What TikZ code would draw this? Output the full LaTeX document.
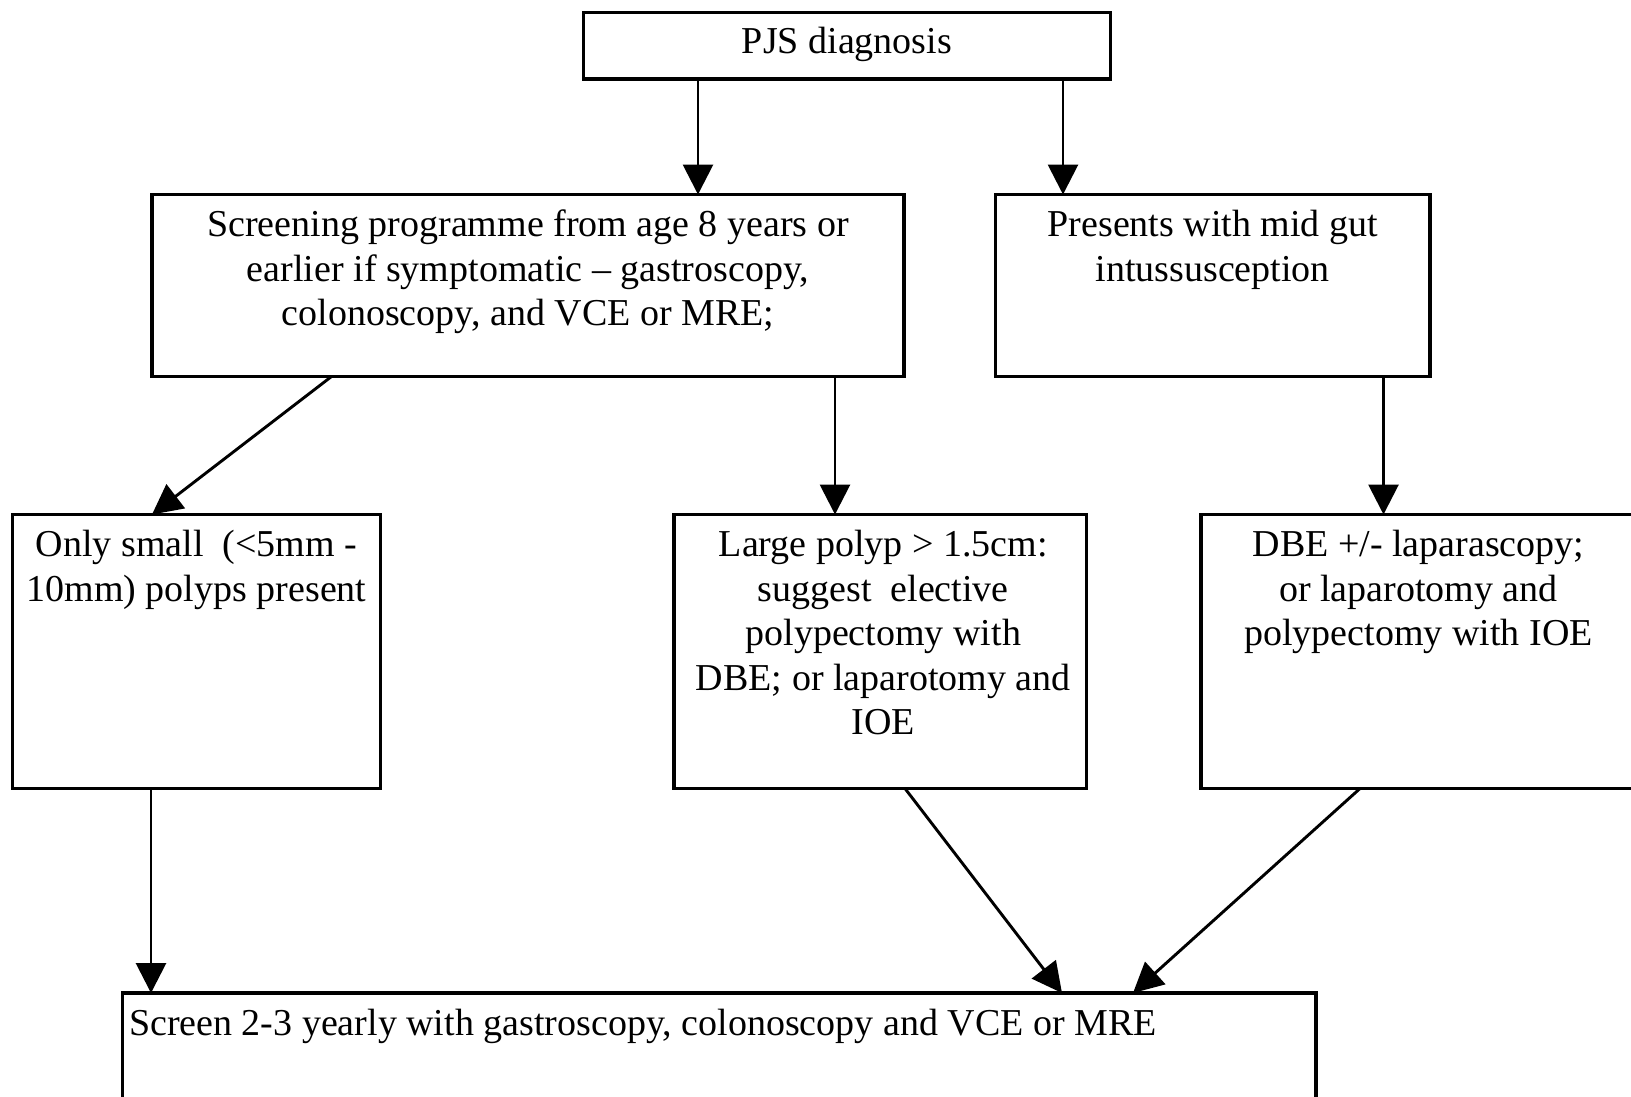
\documentclass[tikz,border=0pt]{standalone}
\usepackage{fontspec}
\setmainfont{Liberation Serif}
\usetikzlibrary{arrows.meta,calc}

% multi-line label whose baseline is that of its first line
\newcommand{\ctext}[1]{\begin{tabular}[t]{@{}c@{}}#1\end{tabular}}

\begin{document}
\begin{tikzpicture}[x=1pt,y=-1pt,
  flowbox/.style={draw, line width=3.4pt, inner sep=0pt, outer sep=0pt,
                  anchor=north west, fill=white},
  boxtext/.style={inner sep=0pt, outer sep=0pt, anchor=base,
                  font=\fontsize{38}{44.5}\selectfont},
  arr/.style={line width=2.9pt, -{Triangle[width=30pt,length=30pt]}}]

\useasboundingbox[fill=white] (0,0) rectangle (1631,1096);

% boxes (top-left corner, width, height)
\node[flowbox, minimum width=527pt, minimum height=66.5pt]  (pjs)   at (583.5,12.5) {};
\node[flowbox, minimum width=752pt, minimum height=182pt]   (scr)   at (152,194.5) {};
\node[flowbox, minimum width=434.5pt, minimum height=182pt] (pres)  at (995.5,194.5) {};
\node[flowbox, minimum width=368pt, minimum height=274pt]   (small) at (12.5,514.5) {};
\node[flowbox, minimum width=412.5pt, minimum height=274pt] (large) at (674,514.5) {};
\node[flowbox, minimum width=435pt, minimum height=274pt]   (dbe)   at (1201,514.5) {};
\node[flowbox, minimum width=1193.5pt, minimum height=140pt] (bot)  at (122.5,993) {};

% texts
\node[boxtext] (tpjs) at ($(pjs.north)+(0,40.5)$) {PJS diagnosis};
\node[boxtext] (tscr) at ($(scr.north)+(0,42)$)
  {\ctext{Screening programme from age 8 years or\\
          earlier if symptomatic – gastroscopy,\\
          colonoscopy, and VCE or MRE;}};
\node[boxtext] (tpres) at ($(pres.north)+(0,42)$)
  {\ctext{Presents with mid gut\\ intussusception}};
\node[boxtext] (tsmall) at ($(small.north)+(0,42)$)
  {\ctext{Only small~ (<5mm -\\ 10mm) polyps present}};
\node[boxtext] (tlarge) at ($(large.north)+(3,42)$)
  {\ctext{Large polyp > 1.5cm:\\ suggest~ elective\\ polypectomy with\\
          DBE; or laparotomy and\\ IOE}};
\node[boxtext] (tdbe) at ($(dbe.north)+(0,42)$)
  {\ctext{DBE +/- laparascopy;\\ or laparotomy and\\ polypectomy with IOE}};
\node[boxtext, anchor=base west] (tbot) at ($(bot.north west)+(6.5,42)$)
  {Screen 2-3 yearly with gastroscopy, colonoscopy and VCE or MRE};

% connectors
\draw[arr] (698,0 |- pjs.south)   -- (698,0 |- scr.north);
\draw[arr] (1063,0 |- pjs.south)  -- (1063,0 |- pres.north);
\draw[arr] (331.5,0 |- scr.south) -- (152,0 |- small.north);
\draw[arr] (835,0 |- scr.south)   -- (835,0 |- large.north);
\draw[arr] (1383.5,0 |- pres.south) -- (1383.5,0 |- dbe.north);
\draw[arr] (151,0 |- small.south) -- (151,0 |- bot.north);
\draw[arr] (905,0 |- large.south) -- (1062,0 |- bot.north);
\draw[arr] (1360,0 |- dbe.south)  -- (1133,0 |- bot.north);
\end{tikzpicture}
\end{document}
